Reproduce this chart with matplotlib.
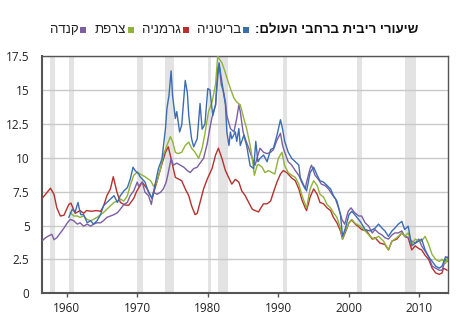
import matplotlib
matplotlib.use("Agg")
import matplotlib.pyplot as plt
from matplotlib.patches import Rectangle

# ---------------- data ----------------
title_text = "שיעורי ריבית ברחבי העולם:"
series_names = ["בריטניה", "גרמניה", "צרפת", "קנדה"]
series_colors = ["#3b6db3", "#b5312e", "#8fb339", "#7c5ea3"]

uk_years = [1960.3, 1960.8, 1961.2, 1961.6, 1961.8, 1962.0, 1962.4, 1962.9, 1963.4, 1963.8, 1964.3, 1964.8,
            1965.2, 1965.7, 1966.2, 1966.7, 1967.2, 1967.6, 1968.1, 1968.6, 1969.0, 1969.4, 1969.7, 1970.2,
            1970.4, 1971.1, 1971.6, 1972.1, 1972.6, 1973.0, 1973.5, 1974.0, 1974.2, 1974.5, 1974.8, 1975.0,
            1975.4, 1975.6, 1976.0, 1976.3, 1976.8, 1977.1, 1977.3, 1977.7, 1978.0, 1978.5, 1978.9, 1979.2,
            1979.6, 1980.0, 1980.3, 1980.7, 1981.1, 1981.4, 1981.6, 1981.9, 1982.2, 1982.5, 1982.7, 1983.0,
            1983.2, 1983.4, 1983.9, 1984.1, 1984.4, 1984.6, 1985.1, 1985.5, 1986.0, 1986.5, 1986.8, 1987.1,
            1987.4, 1987.9, 1988.4, 1988.9, 1989.3, 1989.8, 1990.3, 1990.6, 1990.9, 1991.4, 1991.9, 1992.4,
            1992.9, 1993.1, 1993.6, 1994.0, 1994.5, 1995.0, 1995.5, 1995.9, 1996.4, 1996.9, 1997.4, 1997.8,
            1998.3, 1998.8, 1999.1, 1999.5, 2000.0, 2000.4, 2000.9, 2001.6, 2002.3, 2003.0, 2003.7, 2004.2,
            2004.7, 2005.1, 2005.6, 2006.1, 2006.5, 2007.0, 2007.5, 2007.9, 2008.4, 2008.9, 2009.4, 2009.9,
            2010.3, 2010.8, 2011.3, 2011.8, 2012.3, 2012.8, 2013.2, 2013.7, 2014.0]
uk_values = [5.6, 6.2, 6.0, 6.7, 6.2, 5.8, 5.8, 5.2, 5.35, 5.1, 5.35, 5.8,
             6.45, 6.7, 6.95, 7.2, 6.7, 7.2, 7.55, 7.8, 8.4, 9.3, 9.05, 8.8,
             8.6, 8.2, 7.45, 7.0, 8.2, 9.2, 9.9, 12.15, 13.6, 14.6, 16.4, 14.6,
             12.9, 13.4, 11.9, 12.4, 15.7, 14.8, 13.1, 11.4, 10.8, 11.4, 14.0, 12.1,
             12.5, 15.1, 15.0, 13.1, 13.9, 15.9, 17.0, 15.9, 14.9, 13.9, 11.9, 10.9,
             11.9, 11.4, 11.9, 11.2, 12.15, 10.9, 11.65, 10.9, 9.4, 9.2, 11.2, 9.7,
             9.95, 10.2, 9.7, 10.6, 10.7, 11.65, 12.8, 12.1, 11.2, 10.4, 9.95, 9.7,
             9.45, 8.55, 7.95, 7.55, 8.9, 9.3, 8.7, 8.3, 8.2, 7.95, 7.7, 7.2,
             6.8, 5.8, 4.2, 4.8, 5.8, 6.05, 5.75, 5.3, 4.7, 4.6, 4.8, 5.1,
             4.8, 4.6, 4.2, 4.6, 4.8, 5.1, 5.3, 4.7, 4.95, 3.5, 3.7, 3.85,
             4.0, 3.2, 2.7, 2.35, 2.0, 1.85, 2.0, 2.7, 2.6]

de_years = [1956.5, 1957.0, 1957.7, 1958.2, 1958.6, 1959.1, 1959.6, 1960.3, 1960.6, 1961.2, 1961.9, 1962.4,
            1962.8, 1963.5, 1964.2, 1964.8, 1965.2, 1965.7, 1966.2, 1966.6, 1967.1, 1967.6, 1968.3, 1968.8,
            1969.5, 1969.9, 1970.7, 1971.4, 1972.1, 1972.6, 1973.3, 1974.0, 1974.4, 1974.9, 1975.4, 1976.3,
            1976.8, 1977.3, 1977.7, 1978.2, 1978.5, 1978.9, 1979.4, 1979.9, 1980.6, 1981.1, 1981.5, 1982.0,
            1982.5, 1982.9, 1983.4, 1983.9, 1984.4, 1984.8, 1985.3, 1985.8, 1986.3, 1986.7, 1987.2, 1987.4,
            1987.9, 1988.4, 1988.9, 1989.3, 1989.8, 1990.3, 1990.7, 1991.2, 1991.9, 1992.4, 1992.9, 1993.3,
            1993.8, 1994.0, 1994.5, 1995.0, 1995.5, 1995.9, 1996.4, 1996.9, 1997.4, 1997.8, 1998.3, 1998.8,
            1999.1, 1999.5, 2000.0, 2000.4, 2000.9, 2001.4, 2001.8, 2002.5, 2003.3, 2003.7, 2004.4, 2005.1,
            2005.6, 2006.1, 2006.8, 2007.5, 2007.9, 2008.4, 2008.9, 2009.4, 2009.9, 2010.3, 2010.8, 2011.3,
            2011.8, 2012.3, 2012.8, 2013.2, 2013.4, 2013.9]
de_values = [7.0, 7.3, 7.75, 7.3, 6.3, 5.7, 5.75, 6.55, 6.65, 5.9, 6.1, 5.9,
             6.1, 6.05, 6.1, 6.05, 6.4, 7.2, 7.7, 8.6, 7.5, 6.7, 6.5, 6.5,
             7.0, 7.5, 8.2, 7.7, 7.0, 7.9, 9.2, 10.4, 10.8, 9.7, 8.55, 8.3,
             7.7, 7.2, 6.45, 5.8, 5.9, 6.7, 7.7, 8.4, 9.2, 10.2, 10.7, 9.95,
             9.05, 8.6, 8.05, 8.4, 8.2, 7.56, 7.2, 6.7, 6.2, 6.1, 6.0, 6.2,
             6.6, 6.6, 6.8, 7.45, 8.2, 8.8, 9.05, 8.9, 8.5, 8.3, 7.7, 6.95,
             6.3, 6.1, 7.1, 7.7, 7.3, 6.7, 6.6, 6.3, 6.1, 5.6, 5.2, 4.6,
             4.0, 4.5, 5.2, 5.4, 5.1, 4.9, 4.7, 4.6, 4.0, 4.1, 3.7, 3.6,
             3.2, 3.85, 4.0, 4.45, 4.2, 4.1, 3.2, 3.5, 3.3, 3.2, 2.8, 2.5,
             1.85, 1.5, 1.4, 1.5, 1.85, 1.7]

fr_years = [1960.5, 1961.0, 1961.5, 1961.9, 1962.4, 1962.9, 1963.4, 1963.8, 1964.3, 1964.8, 1965.2, 1965.7,
            1966.2, 1966.7, 1967.2, 1967.6, 1968.1, 1968.6, 1969.0, 1969.5, 1970.0, 1970.4, 1971.1, 1971.9,
            1972.3, 1972.8, 1973.3, 1973.7, 1974.2, 1974.7, 1975.0, 1975.4, 1975.8, 1976.3, 1976.8, 1977.3,
            1977.7, 1978.2, 1978.7, 1979.2, 1979.6, 1980.1, 1980.6, 1981.1, 1981.4, 1981.6, 1982.0, 1982.4,
            1982.7, 1983.2, 1983.7, 1984.1, 1984.6, 1985.1, 1985.5, 1986.0, 1986.3, 1986.6, 1987.0, 1987.2,
            1987.7, 1988.1, 1988.6, 1989.1, 1989.5, 1990.0, 1990.5, 1990.9, 1991.4, 1991.9, 1992.4, 1992.9,
            1993.3, 1993.8, 1994.0, 1994.5, 1995.0, 1995.5, 1995.9, 1996.4, 1996.9, 1997.4, 1997.8, 1998.3,
            1998.8, 1999.1, 1999.5, 2000.0, 2000.4, 2000.9, 2001.6, 2002.3, 2003.0, 2003.5, 2004.2, 2004.9,
            2005.6, 2006.1, 2006.8, 2007.5, 2007.9, 2008.4, 2008.9, 2009.4, 2009.9, 2010.3, 2010.8, 2011.3,
            2011.8, 2012.3, 2012.8, 2013.2, 2013.7, 2014.0]
fr_values = [5.95, 5.7, 5.7, 5.6, 5.7, 5.45, 5.35, 5.45, 5.6, 5.8, 5.95, 6.2,
             6.45, 6.7, 6.8, 6.95, 6.8, 7.2, 7.95, 8.7, 8.95, 8.8, 8.6, 8.3,
             7.9, 8.2, 9.2, 10.2, 10.9, 11.55, 11.2, 10.4, 10.3, 10.4, 10.9, 11.15,
             10.7, 10.4, 9.95, 10.7, 11.8, 13.4, 14.1, 15.4, 17.5, 17.3, 17.0, 16.4,
             15.9, 15.1, 14.4, 14.1, 13.9, 12.9, 12.15, 10.9, 9.95, 8.7, 9.45, 9.5,
             9.3, 8.9, 9.05, 8.9, 8.8, 9.95, 10.4, 9.4, 8.9, 8.7, 8.55, 8.05,
             7.3, 6.55, 6.3, 7.7, 8.3, 7.95, 7.3, 7.1, 6.55, 6.3, 5.95, 5.6,
             4.8, 4.0, 4.6, 5.2, 5.45, 5.15, 4.95, 4.6, 4.2, 4.0, 4.2, 3.85,
             3.2, 3.85, 4.1, 4.45, 4.2, 4.45, 3.6, 4.0, 3.85, 3.85, 4.2, 3.6,
             2.85, 2.5, 2.35, 2.5, 2.2, 2.7]

ca_years = [1956.5, 1957.0, 1957.5, 1957.9, 1958.2, 1958.6, 1959.1, 1959.6, 1960.1, 1960.5, 1961.0, 1961.5,
            1961.9, 1962.4, 1962.9, 1963.4, 1963.8, 1964.3, 1964.8, 1965.2, 1965.7, 1966.2, 1966.7, 1967.2,
            1967.6, 1968.1, 1968.6, 1969.0, 1969.5, 1970.0, 1970.2, 1970.7, 1971.1, 1971.6, 1972.0, 1972.3,
            1972.8, 1973.3, 1973.7, 1974.1, 1974.4, 1974.8, 1975.1, 1975.6, 1976.1, 1976.6, 1977.1, 1977.5,
            1978.0, 1978.5, 1978.9, 1979.4, 1979.9, 1980.3, 1980.6, 1981.1, 1981.4, 1981.6, 1981.9, 1982.2,
            1982.5, 1982.7, 1983.2, 1983.7, 1984.1, 1984.4, 1984.6, 1985.0, 1985.3, 1985.8, 1986.3, 1986.7,
            1987.1, 1987.4, 1987.9, 1988.4, 1988.9, 1989.3, 1989.8, 1990.3, 1990.6, 1990.9, 1991.4, 1991.9,
            1992.4, 1992.9, 1993.3, 1993.8, 1994.0, 1994.5, 1994.7, 1995.2, 1995.6, 1996.1, 1996.6, 1997.1,
            1997.6, 1998.1, 1998.6, 1999.0, 1999.4, 1999.9, 2000.3, 2000.8, 2001.4, 2001.8, 2002.3, 2002.8,
            2003.3, 2003.7, 2004.2, 2004.7, 2005.1, 2005.6, 2006.1, 2006.5, 2007.0, 2007.5, 2007.9, 2008.4,
            2008.9, 2009.4, 2009.9, 2010.3, 2010.8, 2011.3, 2011.8, 2012.3, 2012.8, 2013.2, 2013.7, 2014.0]
ca_values = [3.85, 4.1, 4.25, 4.35, 3.95, 4.1, 4.45, 4.8, 5.2, 5.45, 5.35, 5.1,
             5.2, 4.95, 5.1, 4.95, 5.1, 5.2, 5.2, 5.35, 5.6, 5.7, 5.8, 5.95,
             6.2, 6.55, 6.7, 7.2, 7.55, 8.2, 7.9, 8.2, 7.45, 7.2, 6.55, 7.45,
             7.3, 7.45, 7.7, 8.2, 8.9, 9.95, 9.45, 9.6, 9.45, 9.3, 9.05, 8.9,
             9.2, 9.3, 9.6, 9.95, 11.0, 12.2, 13.0, 13.9, 16.6, 16.9, 15.4, 14.9,
             14.1, 13.1, 12.15, 11.9, 12.9, 13.9, 13.4, 11.9, 11.4, 10.7, 9.95, 9.45,
             10.2, 10.7, 10.4, 10.3, 10.4, 10.6, 11.3, 11.8, 10.9, 10.4, 9.7, 9.45,
             9.05, 8.7, 8.2, 7.7, 8.2, 9.2, 9.45, 8.7, 8.45, 8.05, 7.95, 7.7,
             7.3, 6.95, 6.2, 5.45, 5.1, 6.05, 6.3, 5.95, 5.7, 5.7, 5.2, 4.95,
             4.45, 4.7, 4.45, 4.3, 4.1, 4.0, 4.3, 4.45, 4.45, 4.6, 4.2, 4.1,
             3.85, 3.7, 4.0, 3.5, 3.1, 2.7, 2.0, 1.85, 1.7, 1.7, 2.5, 2.35]

recession_starts = [1957.6, 1960.3, 1969.9, 1973.9, 1980.0, 1981.5, 1990.6, 2001.2, 2007.9]
recession_ends = [1958.3, 1961.1, 1970.8, 1975.2, 1980.5, 1982.9, 1991.2, 2001.9, 2009.5]

y_ticks = [0, 2.5, 5, 7.5, 10, 12.5, 15, 17.5]
y_tick_labels = ["0", "2.5", "5", "7.5", "10", "12.5", "15", "17.5"]
x_ticks = [1960, 1970, 1980, 1990, 2000, 2010]

# ---------------- figure ----------------
W, H = 470, 331
fig = plt.figure(figsize=(W / 100, H / 100), dpi=100)
ax = fig.add_axes([42 / W, 1 - 293.3 / H, (447.7 - 42) / W, (293.3 - 56) / H])

for s, e in zip(recession_starts, recession_ends):
    ax.axvspan(s, e, color="#e3e3e3", lw=0, zorder=0)

ax.set_yticks(y_ticks)
ax.set_yticklabels(y_tick_labels)
ax.yaxis.grid(True, color="#c9c9c9", lw=1.0, zorder=1)
ax.set_axisbelow(True)

all_x = [uk_years, de_years, fr_years, ca_years]
all_y = [uk_values, de_values, fr_values, ca_values]
for i in [1, 3, 2, 0]:
    ax.plot(all_x[i], all_y[i], color=series_colors[i], lw=1.0, zorder=3)

ax.set_xlim(1956.5, 2014.0)
ax.set_ylim(0, 17.5)
ax.set_xticks(x_ticks)

for side in ["left", "bottom"]:
    ax.spines[side].set_color("#555555")
    ax.spines[side].set_linewidth(1.5)
for side in ["top", "right"]:
    ax.spines[side].set_color("#555555")
    ax.spines[side].set_linewidth(1.0)

ax.tick_params(axis="y", length=0, pad=9, labelsize=8.5, labelcolor="#222222")
ax.tick_params(axis="x", length=3, width=1, color="#555555", pad=3, labelsize=8.5, labelcolor="#222222")
for lab in ax.get_xticklabels() + ax.get_yticklabels():
    lab.set_fontfamily(["Open Sans", "DejaVu Sans"])

# ---------------- title / legend (right-to-left, strings reversed for visual order) ----------------
heb_font = ["Liberation Sans", "DejaVu Sans"]
renderer = fig.canvas.get_renderer()
ty = 1 - 30 / H
x_right = 418.0
t = fig.text(x_right / W, ty, title_text[::-1], ha="right", va="center",
             fontsize=9.5, fontweight="bold", family=heb_font, color="#111111")
x_cur = x_right - t.get_window_extent(renderer).width - 6
sq = 6
for name, col in zip(series_names, series_colors):
    fig.patches.append(Rectangle(((x_cur - sq) / W, ty - (sq / 2) / H), sq / W, sq / H,
                                 transform=fig.transFigure, facecolor=col, edgecolor="none"))
    x_cur -= sq + 2
    lt = fig.text(x_cur / W, ty, name[::-1], ha="right", va="center",
                  fontsize=9.5, family=heb_font, color="#222222")
    x_cur -= lt.get_window_extent(renderer).width + 8

fig.savefig("out.png", dpi=100)
